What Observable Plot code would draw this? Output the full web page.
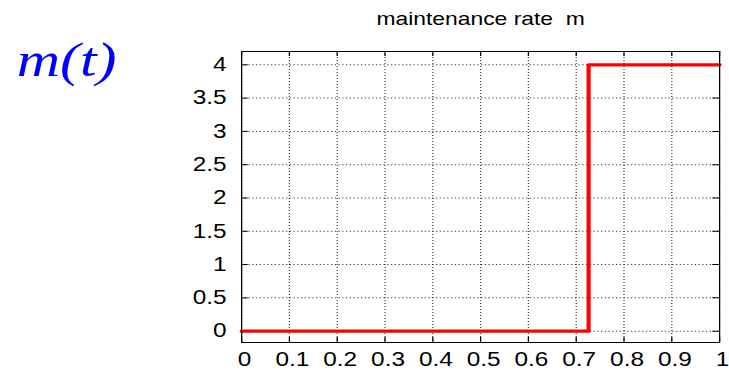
<!DOCTYPE html>
<html>
<head>
<meta charset="utf-8">
<script src="https://cdn.jsdelivr.net/npm/d3@7"></script>
<script src="https://cdn.jsdelivr.net/npm/@observablehq/plot@0.6"></script>
<style>
html, body { margin: 0; padding: 0; background: #fff; overflow: hidden; }
#wrap { width: 583.2px; height: 378px; transform: scaleX(1.25); transform-origin: 0 0; }
</style>
</head>
<body>
<div id="wrap"></div>
<script>
// data
const t = [0, 0.726, 1];
const m = [0, 4, 4];
const xTicks = [0, 0.1, 0.2, 0.3, 0.4, 0.5, 0.6, 0.7, 0.8, 0.9, 1];
const xTickLabels = ["0", "0.1", "0.2", "0.3", "0.4", "0.5", "0.6", "0.7", "0.8", "0.9", "1"];
const yTicks = [0, 0.5, 1, 1.5, 2, 2.5, 3, 3.5, 4];
const yTickLabels = ["0", "0.5", "1", "1.5", "2", "2.5", "3", "3.5", "4"];
const title = "maintenance rate  m";
const sideLabel = "m(t)";

const rows = t.map((d, i) => ({t: d, m: m[i]}));
const gridStyle = {stroke: "#000", strokeOpacity: 0.75, strokeDasharray: "1,2", strokeWidth: 1};

const chart = Plot.plot({
  width: 583.2,
  height: 378,
  marginLeft: 192.8,
  marginRight: 8,
  marginTop: 51,
  marginBottom: 36,
  x: {domain: [0, 1], label: null},
  y: {domain: [-0.17, 4.2], label: null},
  style: {fontFamily: "'Liberation Sans', Arial, sans-serif", fontSize: "19px", color: "#000", background: "#fff"},
  marks: [
    Plot.gridX(xTicks, gridStyle),
    Plot.gridY(yTicks, gridStyle),
    Plot.axisX(xTicks, {tickSize: 0, tickPadding: 10, dx: 2.4, label: null, tickFormat: d => xTickLabels[xTicks.indexOf(d)], fontSize: 19.5}),
    Plot.axisY(yTicks, {tickSize: 0, tickPadding: 12, label: null, tickFormat: d => yTickLabels[yTicks.indexOf(d)], fontSize: 19.5}),
    Plot.tickX(xTicks, {x: d => d, insetBottom: 286, stroke: "#000"}),
    Plot.tickX(xTicks, {x: d => d, insetTop: 286, stroke: "#000"}),
    Plot.tickY(yTicks, {y: d => d, insetRight: 377, stroke: "#000"}),
    Plot.tickY(yTicks, {y: d => d, insetLeft: 377, stroke: "#000"}),
    Plot.line(rows, {x: "t", y: "m", curve: "step-after", stroke: "#ff0000", strokeWidth: 3.3}),
    Plot.frame({stroke: "#000", strokeWidth: 1}),
    Plot.text([title], {frameAnchor: "top", dy: -26, lineAnchor: "bottom", fontSize: 18.3, fill: "#000"}),
    Plot.text([sideLabel], {frameAnchor: "top-left", textAnchor: "start", dx: -180, dy: 25, lineAnchor: "bottom",
      fontSize: 48, fontFamily: "'Liberation Serif', serif", fontStyle: "italic", fill: "#0000ff"})
  ]
});
document.getElementById("wrap").appendChild(chart);
</script>
</body>
</html>
